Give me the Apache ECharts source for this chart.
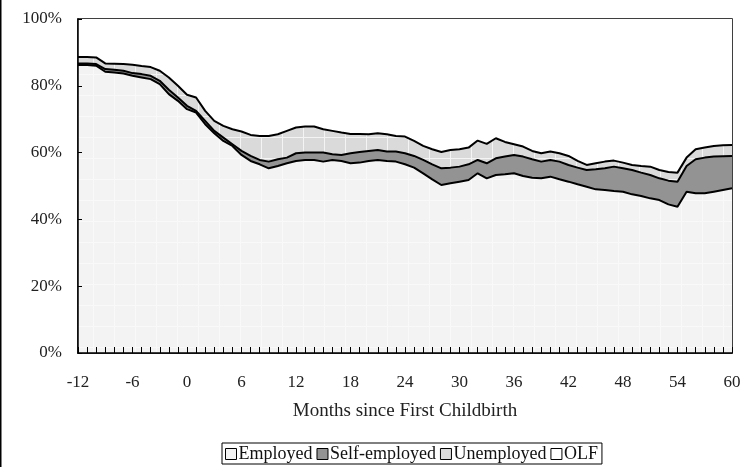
<!DOCTYPE html>
<html>
<head>
<meta charset="utf-8">
<script src="https://cdn.jsdelivr.net/npm/echarts@6/dist/echarts.min.js"></script>
<style>
  html, body { margin: 0; padding: 0; background: #fff; }
  #chart { width: 746px; height: 467px; }
</style>
</head>
<body>
<div id="chart"></div>
<script>
// Months relative to the first childbirth
const months = [-12, -11, -10, -9, -8, -7, -6, -5, -4, -3, -2, -1, 0, 1, 2, 3, 4, 5, 6, 7, 8, 9,
  10, 11, 12, 13, 14, 15, 16, 17, 18, 19, 20, 21, 22, 23, 24, 25, 26, 27, 28, 29, 30, 31, 32,
  33, 34, 35, 36, 37, 38, 39, 40, 41, 42, 43, 44, 45, 46, 47, 48, 49, 50, 51, 52, 53, 54, 55,
  56, 57, 58, 59, 60];

// Labour-market status shares (%) for each month
const employed = [86.2, 86.2, 86.0, 84.2, 84.0, 83.7, 83.0, 82.5, 82.0, 80.5, 77.5, 75.5, 73.0,
  72.0, 68.5, 65.8, 63.5, 62.0, 59.3, 57.5, 56.5, 55.3, 56.0, 56.8, 57.5, 57.8, 57.8, 57.3, 57.8,
  57.5, 56.8, 57.0, 57.5, 57.8, 57.5, 57.3, 56.5, 55.5, 53.8, 52.0, 50.3, 50.8, 51.3, 51.8, 53.8,
  52.3, 53.3, 53.5, 53.8, 53.0, 52.5, 52.3, 52.8, 52.0, 51.3, 50.5, 49.8, 49.0, 48.8, 48.5, 48.3,
  47.5, 47.0, 46.3, 45.8, 44.5, 43.8, 48.3, 47.8, 47.8, 48.3, 48.8, 49.3];

const selfEmployed = [0.5, 0.5, 0.5, 0.8, 0.8, 0.8, 0.8, 1.0, 1.0, 1.0, 1.3, 1.0, 1.0, 0.5, 1.0,
  0.7, 1.0, 0.5, 1.2, 1.5, 1.3, 2.0, 2.0, 1.7, 2.3, 2.2, 2.2, 2.7, 1.7, 1.8, 3.0, 3.2, 3.0, 3.0,
  2.8, 3.0, 3.3, 3.5, 4.0, 4.5, 5.0, 4.7, 4.5, 4.7, 4.0, 4.5, 5.0, 5.3, 5.5, 5.8, 5.5, 5.0, 5.0,
  5.3, 5.0, 5.0, 5.0, 6.0, 6.5, 7.3, 7.0, 7.3, 7.0, 7.0, 6.5, 7.1, 7.5, 7.7, 10.2, 10.7, 10.5,
  10.1, 9.7];

const unemployed = [1.9, 1.9, 2.0, 1.7, 1.8, 2.0, 2.5, 2.4, 2.6, 3.0, 3.7, 3.5, 3.3, 4.0, 3.0,
  3.0, 3.5, 4.5, 5.8, 6.3, 7.2, 7.7, 7.5, 8.0, 7.7, 7.8, 7.8, 7.0, 7.0, 6.7, 5.8, 5.4, 5.0, 5.0,
  5.2, 4.7, 5.0, 4.5, 4.2, 4.5, 4.9, 5.3, 5.2, 5.0, 5.8, 5.8, 6.0, 4.4, 3.2, 3.0, 2.5, 2.5, 2.5,
  2.5, 2.7, 2.0, 1.5, 1.8, 2.0, 1.8, 1.7, 1.5, 2.0, 2.5, 2.5, 2.6, 2.7, 2.5, 3.0, 3.0, 3.2, 3.3,
  3.3];

const olf = [11.4, 11.4, 11.5, 13.3, 13.4, 13.5, 13.7, 14.1, 14.4, 15.5, 17.5, 20.0, 22.7, 23.5,
  27.5, 30.5, 32.0, 33.0, 33.7, 34.7, 35.0, 35.0, 34.5, 33.5, 32.5, 32.2, 32.2, 33.0, 33.5, 34.0,
  34.4, 34.4, 34.5, 34.2, 34.5, 35.0, 35.2, 36.5, 38.0, 39.0, 39.8, 39.2, 39.0, 38.5, 36.4, 37.4,
  35.7, 36.8, 37.5, 38.2, 39.5, 40.2, 39.7, 40.2, 41.0, 42.5, 43.7, 43.2, 42.7, 42.4, 43.0, 43.7,
  44.0, 44.2, 45.2, 45.8, 46.0, 41.5, 39.0, 38.5, 38.0, 37.8, 37.7];

const seriesNames = ['Employed', 'Self-employed', 'Unemployed', 'OLF'];
const yTicks = [0, 20, 40, 60, 80, 100];

const FONT = '"Liberation Serif", "DejaVu Serif", serif';

// Fill with a fine white grid running through it
function gridFill(bg, line) {
  const c = document.createElement('canvas');
  c.width = 21; c.height = 21;
  const g = c.getContext('2d');
  g.fillStyle = bg; g.fillRect(0, 0, 21, 21);
  g.fillStyle = line;
  g.fillRect(9, 0, 1, 21);
  g.fillRect(0, 11, 21, 1);
  return { image: c, repeat: 'repeat' };
}

const values = [employed, selfEmployed, unemployed, olf];

// Running totals: each band is painted from zero up to its cumulative top,
// lower bands drawn over higher ones so the result reads as a stack.
const cumulative = [];
values.forEach((arr, k) => {
  cumulative.push(arr.map((v, i) => (k ? cumulative[k - 1][i] : 0) + v));
});

const fills = [
  gridFill('#f3f3f3', '#f9f9f9'),
  '#939393',
  gridFill('#dadada', '#f4f4f4'),
  '#ffffff'
];
const legendFills = ['#f3f3f3', '#939393', '#dadada', '#ffffff'];

const chart = echarts.init(document.getElementById('chart'), null, { renderer: 'canvas' });

chart.setOption({
  animation: false,
  backgroundColor: '#ffffff',
  textStyle: { fontFamily: FONT },
  grid: {
    left: 78, right: 14, top: 19, bottom: 114,
    show: true, borderColor: '#000', borderWidth: 1.5, backgroundColor: 'transparent'
  },
  legend: {
    data: seriesNames.map((n, i) => ({
      name: n,
      icon: 'rect',
      itemStyle: { color: legendFills[i], borderColor: '#000', borderWidth: 1 }
    })),
    left: 222, top: 443,
    padding: [2, 4, 1, 3],
    borderColor: '#000', borderWidth: 1,
    itemWidth: 11, itemHeight: 11, itemGap: 4,
    textStyle: { fontFamily: FONT, fontSize: 18, color: '#111', padding: [0, 0, 0, -3] }
  },
  xAxis: {
    type: 'value',
    z: 20,
    min: -12, max: 60, interval: 6,
    name: 'Months since First Childbirth',
    nameLocation: 'middle', nameGap: 49,
    nameTextStyle: { fontFamily: FONT, fontSize: 19, color: '#222' },
    axisLine: { show: true, onZero: false, lineStyle: { color: '#000', width: 1.5 } },
    axisTick: { show: true, inside: true, length: 6, lineStyle: { color: '#000', width: 1 } },
    minorTick: { show: true, splitNumber: 6, length: 6, lineStyle: { color: '#000', width: 1 } },
    axisLabel: { fontFamily: FONT, fontSize: 17, color: '#222', margin: 21 },
    splitLine: { show: false }
  },
  yAxis: {
    type: 'value',
    z: 20,
    min: yTicks[0], max: yTicks[yTicks.length - 1], interval: 20,
    axisLine: { show: true, onZero: false, lineStyle: { color: '#000', width: 1.5 } },
    axisTick: { show: true, inside: true, length: 4, lineStyle: { color: '#000' } },
    axisLabel: { fontFamily: FONT, fontSize: 17, color: '#222', margin: 16, formatter: '{value}%' },
    splitLine: { show: false }
  },
  series: seriesNames.map((n, i) => ({
    name: n,
    type: 'line',
    symbol: 'none',
    data: months.map((m, j) => [m, cumulative[i][j]]),
    itemStyle: { color: legendFills[i] },
    lineStyle: { color: '#000', width: i === 3 ? 0 : 2 },
    areaStyle: { color: fills[i], opacity: 1, origin: 'start' },
    z: 10 - i
  })),
  graphic: [
    { type: 'rect', left: 0, top: 0, shape: { width: 1.5, height: 467 }, style: { fill: '#000' } }
  ]
});
</script>
</body>
</html>
